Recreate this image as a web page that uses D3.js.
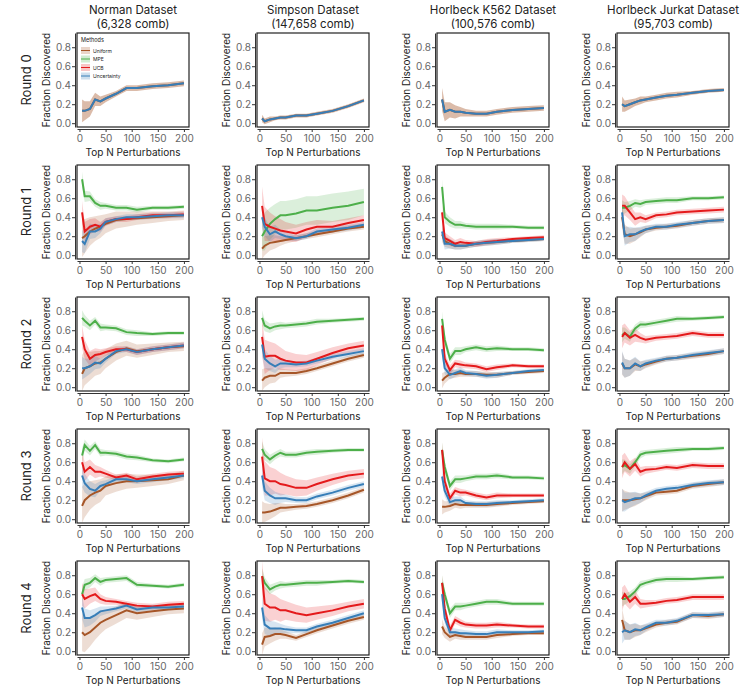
<!DOCTYPE html>
<html>
<head>
<meta charset="utf-8">
<script src="https://cdn.jsdelivr.net/npm/d3@7"></script>
<style>
  body { margin: 0; background: #fff; }
  text { font-family: Inter, "Noto Sans", sans-serif; }
</style>
</head>
<body>
<div id="chart"></div>
<script>
// Data
var topN = [5, 10, 20, 30, 40, 50, 70, 90, 110, 140, 170, 200];
var datasets = ['Norman Dataset\n(6,328 comb)', 'Simpson Dataset\n(147,658 comb)',
  'Horlbeck K562 Dataset\n(100,576 comb)', 'Horlbeck Jurkat Dataset\n(95,703 comb)'];
var rounds = ['Round 0', 'Round 1', 'Round 2', 'Round 3', 'Round 4'];
var methods = ['Uniform', 'MPE', 'UCB', 'Uncertainty'];
var methodColors = ['#a65628', '#4daf4a', '#e41a1c', '#377eb8'];
var yTicks = [0, 0.2, 0.4, 0.6, 0.8];
var xTicks = [0, 50, 100, 150, 200];

// band half-width profiles
var hwWide = [0.12, 0.1, 0.08, 0.07, 0.05, 0.04, 0.03, 0.03, 0.03, 0.03, 0.03, 0.03];
var hwMid = [0.08, 0.06, 0.05, 0.04, 0.04, 0.03, 0.03, 0.03, 0.03, 0.02, 0.02, 0.02];
var hwNarrow = [0.04, 0.03, 0.03, 0.02, 0.02, 0.02, 0.02, 0.02, 0.02, 0.02, 0.02, 0.02];
var hwBroad = [0.2, 0.18, 0.15, 0.13, 0.12, 0.1, 0.09, 0.08, 0.07, 0.06, 0.05, 0.05];
var hwHuge = [0.15, 0.2, 0.17, 0.16, 0.15, 0.15, 0.15, 0.15, 0.15, 0.15, 0.15, 0.14];

// values[round][dataset] = [Uniform, MPE, UCB, Uncertainty]
var r0Norman = [0.13, 0.13, 0.15, 0.25, 0.23, 0.26, 0.31, 0.37, 0.37, 0.39, 0.40, 0.42];
var r0Simpson = [0.05, 0.02, 0.04, 0.05, 0.06, 0.06, 0.08, 0.08, 0.10, 0.13, 0.18, 0.24];
var r0K562 = [0.25, 0.12, 0.14, 0.12, 0.12, 0.11, 0.10, 0.10, 0.12, 0.14, 0.15, 0.16];
var r0Jurkat = [0.20, 0.18, 0.20, 0.22, 0.24, 0.25, 0.27, 0.29, 0.30, 0.32, 0.34, 0.35];

var values = [
  [
    [r0Norman, r0Norman, r0Norman, r0Norman],
    [r0Simpson, r0Simpson, r0Simpson, r0Simpson],
    [r0K562, r0K562, r0K562, r0K562],
    [r0Jurkat, r0Jurkat, r0Jurkat, r0Jurkat]
  ],
  [
    [[0.18, 0.20, 0.25, 0.28, 0.30, 0.33, 0.37, 0.38, 0.39, 0.40, 0.41, 0.42],
     [0.80, 0.62, 0.62, 0.55, 0.52, 0.52, 0.50, 0.50, 0.48, 0.50, 0.50, 0.51],
     [0.45, 0.25, 0.30, 0.32, 0.30, 0.35, 0.38, 0.38, 0.40, 0.42, 0.42, 0.43],
     [0.15, 0.12, 0.25, 0.25, 0.28, 0.35, 0.38, 0.40, 0.40, 0.41, 0.42, 0.42]],
    [[0.07, 0.10, 0.13, 0.14, 0.15, 0.16, 0.18, 0.20, 0.22, 0.25, 0.28, 0.30],
     [0.20, 0.25, 0.33, 0.38, 0.42, 0.42, 0.44, 0.47, 0.47, 0.50, 0.52, 0.56],
     [0.52, 0.33, 0.30, 0.28, 0.26, 0.25, 0.23, 0.27, 0.30, 0.30, 0.34, 0.37],
     [0.40, 0.30, 0.22, 0.25, 0.22, 0.20, 0.18, 0.20, 0.25, 0.27, 0.29, 0.32]],
    [[0.22, 0.15, 0.12, 0.10, 0.10, 0.10, 0.12, 0.13, 0.14, 0.15, 0.16, 0.17],
     [0.72, 0.40, 0.35, 0.32, 0.32, 0.31, 0.30, 0.30, 0.30, 0.30, 0.29, 0.29],
     [0.45, 0.18, 0.15, 0.12, 0.14, 0.13, 0.12, 0.14, 0.15, 0.17, 0.18, 0.19],
     [0.25, 0.12, 0.12, 0.10, 0.10, 0.10, 0.12, 0.13, 0.14, 0.15, 0.16, 0.17]],
    [[0.40, 0.22, 0.20, 0.22, 0.24, 0.27, 0.29, 0.30, 0.31, 0.34, 0.36, 0.37],
     [0.50, 0.50, 0.52, 0.55, 0.54, 0.56, 0.57, 0.58, 0.58, 0.60, 0.60, 0.61],
     [0.52, 0.52, 0.45, 0.38, 0.40, 0.38, 0.42, 0.43, 0.45, 0.46, 0.47, 0.48],
     [0.45, 0.20, 0.22, 0.22, 0.25, 0.27, 0.30, 0.30, 0.32, 0.34, 0.36, 0.37]]
  ],
  [
    [[0.14, 0.20, 0.22, 0.25, 0.26, 0.30, 0.37, 0.41, 0.38, 0.40, 0.42, 0.43],
     [0.73, 0.70, 0.65, 0.70, 0.63, 0.63, 0.62, 0.58, 0.57, 0.56, 0.57, 0.57],
     [0.53, 0.40, 0.30, 0.34, 0.35, 0.37, 0.40, 0.40, 0.37, 0.40, 0.42, 0.44],
     [0.20, 0.20, 0.22, 0.26, 0.25, 0.30, 0.38, 0.40, 0.37, 0.40, 0.42, 0.44]],
    [[0.07, 0.10, 0.12, 0.12, 0.15, 0.15, 0.15, 0.17, 0.20, 0.25, 0.30, 0.34],
     [0.73, 0.65, 0.62, 0.64, 0.65, 0.65, 0.66, 0.67, 0.69, 0.70, 0.71, 0.72],
     [0.53, 0.32, 0.33, 0.33, 0.30, 0.28, 0.26, 0.26, 0.30, 0.36, 0.41, 0.44],
     [0.45, 0.30, 0.25, 0.22, 0.25, 0.25, 0.24, 0.25, 0.28, 0.32, 0.35, 0.38]],
    [[0.07, 0.10, 0.14, 0.14, 0.15, 0.14, 0.14, 0.13, 0.13, 0.15, 0.16, 0.17],
     [0.72, 0.50, 0.30, 0.38, 0.38, 0.40, 0.42, 0.40, 0.41, 0.40, 0.40, 0.39],
     [0.65, 0.30, 0.18, 0.25, 0.24, 0.23, 0.22, 0.19, 0.21, 0.23, 0.22, 0.22],
     [0.40, 0.20, 0.13, 0.15, 0.17, 0.15, 0.14, 0.12, 0.13, 0.15, 0.17, 0.18]],
    [[0.25, 0.20, 0.20, 0.24, 0.22, 0.24, 0.27, 0.30, 0.31, 0.33, 0.35, 0.38],
     [0.55, 0.57, 0.53, 0.62, 0.66, 0.66, 0.68, 0.70, 0.72, 0.72, 0.73, 0.74],
     [0.53, 0.57, 0.52, 0.55, 0.52, 0.50, 0.52, 0.53, 0.54, 0.57, 0.55, 0.55],
     [0.26, 0.20, 0.20, 0.25, 0.22, 0.25, 0.28, 0.30, 0.31, 0.34, 0.36, 0.38]]
  ],
  [
    [[0.14, 0.20, 0.25, 0.28, 0.30, 0.35, 0.38, 0.40, 0.40, 0.41, 0.42, 0.46],
     [0.67, 0.78, 0.72, 0.78, 0.70, 0.70, 0.69, 0.66, 0.65, 0.62, 0.61, 0.63],
     [0.60, 0.50, 0.55, 0.50, 0.50, 0.48, 0.44, 0.46, 0.42, 0.45, 0.47, 0.48],
     [0.46, 0.38, 0.32, 0.30, 0.35, 0.37, 0.42, 0.42, 0.40, 0.42, 0.44, 0.46]],
    [[0.07, 0.07, 0.08, 0.10, 0.12, 0.12, 0.13, 0.14, 0.16, 0.20, 0.25, 0.31],
     [0.74, 0.68, 0.63, 0.67, 0.70, 0.68, 0.68, 0.70, 0.71, 0.72, 0.73, 0.73],
     [0.66, 0.43, 0.40, 0.40, 0.37, 0.36, 0.33, 0.33, 0.37, 0.42, 0.46, 0.48],
     [0.46, 0.30, 0.25, 0.22, 0.22, 0.22, 0.20, 0.20, 0.24, 0.28, 0.33, 0.37]],
    [[0.13, 0.13, 0.14, 0.16, 0.15, 0.15, 0.15, 0.15, 0.16, 0.17, 0.18, 0.19],
     [0.73, 0.55, 0.35, 0.42, 0.42, 0.43, 0.45, 0.45, 0.46, 0.44, 0.44, 0.43],
     [0.73, 0.40, 0.22, 0.30, 0.28, 0.28, 0.25, 0.23, 0.25, 0.25, 0.25, 0.25],
     [0.45, 0.30, 0.18, 0.20, 0.20, 0.17, 0.16, 0.16, 0.17, 0.18, 0.19, 0.20]],
    [[0.20, 0.20, 0.20, 0.21, 0.22, 0.24, 0.28, 0.29, 0.30, 0.35, 0.37, 0.39],
     [0.55, 0.57, 0.53, 0.60, 0.68, 0.70, 0.71, 0.72, 0.73, 0.74, 0.74, 0.75],
     [0.55, 0.60, 0.53, 0.58, 0.50, 0.52, 0.53, 0.55, 0.54, 0.57, 0.56, 0.56],
     [0.20, 0.18, 0.20, 0.22, 0.22, 0.25, 0.30, 0.32, 0.33, 0.36, 0.38, 0.39]]
  ],
  [
    [[0.20, 0.17, 0.20, 0.25, 0.30, 0.33, 0.38, 0.43, 0.40, 0.42, 0.44, 0.45],
     [0.60, 0.70, 0.72, 0.77, 0.73, 0.75, 0.76, 0.77, 0.70, 0.69, 0.68, 0.70],
     [0.60, 0.55, 0.58, 0.60, 0.55, 0.53, 0.52, 0.50, 0.48, 0.47, 0.49, 0.50],
     [0.46, 0.35, 0.35, 0.38, 0.42, 0.43, 0.45, 0.48, 0.44, 0.46, 0.46, 0.47]],
    [[0.07, 0.15, 0.16, 0.18, 0.18, 0.17, 0.14, 0.18, 0.22, 0.27, 0.32, 0.36],
     [0.79, 0.72, 0.65, 0.68, 0.70, 0.70, 0.71, 0.72, 0.72, 0.73, 0.74, 0.73],
     [0.79, 0.50, 0.46, 0.46, 0.43, 0.43, 0.40, 0.38, 0.40, 0.43, 0.47, 0.50],
     [0.46, 0.28, 0.24, 0.24, 0.24, 0.23, 0.22, 0.22, 0.26, 0.30, 0.35, 0.40]],
    [[0.26, 0.20, 0.15, 0.17, 0.16, 0.15, 0.15, 0.15, 0.17, 0.18, 0.19, 0.19],
     [0.72, 0.60, 0.40, 0.47, 0.47, 0.48, 0.50, 0.52, 0.52, 0.50, 0.50, 0.50],
     [0.72, 0.45, 0.22, 0.33, 0.30, 0.28, 0.27, 0.27, 0.28, 0.27, 0.26, 0.26],
     [0.60, 0.35, 0.20, 0.20, 0.19, 0.19, 0.18, 0.18, 0.20, 0.20, 0.20, 0.21]],
    [[0.33, 0.22, 0.20, 0.22, 0.22, 0.24, 0.28, 0.30, 0.31, 0.38, 0.37, 0.39],
     [0.55, 0.55, 0.58, 0.63, 0.70, 0.72, 0.75, 0.76, 0.76, 0.76, 0.77, 0.78],
     [0.55, 0.60, 0.52, 0.57, 0.50, 0.50, 0.51, 0.53, 0.54, 0.57, 0.57, 0.57],
     [0.20, 0.22, 0.20, 0.23, 0.22, 0.25, 0.30, 0.30, 0.32, 0.38, 0.38, 0.39]]
  ]
];

// band profile per dataset column: [Uniform, MPE, UCB, Uncertainty]
var bandProfiles = [
  [hwBroad, hwMid, hwWide, hwWide],
  [hwWide, hwMid, hwBroad, hwWide],
  [hwMid, hwMid, hwMid, hwMid],
  [hwWide, hwMid, hwWide, hwWide]
];
var bandProfilesR0 = [hwWide, hwNarrow, hwWide, hwMid];
var simpsonR1Mpe = hwHuge;

var W = 743, H = 686;
var colX = [77, 257, 437, 617], rowY = [33, 165, 297, 429, 561];
var pw = 112, ph = 94;

var svg = d3.select('#chart').append('svg').attr('width', W).attr('height', H);

var x = d3.scaleLinear().domain([-4.75, 209.75]).range([0, pw]);
var y = d3.scaleLinear().domain([-0.04, 0.95]).range([ph, 0]);

var line = d3.line().x(function (d) { return x(d.n); }).y(function (d) { return y(d.v); });
var area = d3.area().x(function (d) { return x(d.n); })
  .y0(function (d) { return y(Math.max(-0.04, d.v - d.h)); })
  .y1(function (d) { return y(Math.min(0.95, d.v + d.h)); });

// column titles
datasets.forEach(function (t, c) {
  var lines = t.split('\n');
  var tt = svg.append('text').attr('text-anchor', 'middle')
    .attr('font-size', 11.5).attr('fill', '#222');
  lines.forEach(function (l, i) {
    tt.append('tspan').attr('x', colX[c] + pw / 2).attr('y', 14 + i * 13.5).text(l);
  });
});

rounds.forEach(function (r, ri) {
  svg.append('text')
    .attr('transform', 'translate(31,' + (rowY[ri] + ph / 2) + ') rotate(-90)')
    .attr('text-anchor', 'middle').attr('font-size', 13).attr('fill', '#222').text(r);

  datasets.forEach(function (ds, c) {
    var g = svg.append('g').attr('transform', 'translate(' + colX[c] + ',' + rowY[ri] + ')');
    g.append('defs').append('clipPath').attr('id', 'clip' + ri + c)
      .append('rect').attr('width', pw).attr('height', ph);

    var plot = g.append('g').attr('clip-path', 'url(#clip' + ri + c + ')');
    var order = ri === 0 ? [0, 3] : [0, 1, 2, 3];
    order.forEach(function (m) {
      var prof = ri === 0 ? bandProfilesR0[c] : bandProfiles[c][m];
      if (ri === 1 && c === 1 && m === 1) prof = simpsonR1Mpe;
      var pts = topN.map(function (n, i) { return { n: n, v: values[ri][c][m][i], h: prof[i] }; });
      if (ri === 0 && m === 3) return;
      plot.append('path').datum(pts).attr('d', area)
        .attr('fill', methodColors[m]).attr('fill-opacity', ri === 0 ? 0.4 : 0.2);
    });
    order.forEach(function (m) {
      var pts = topN.map(function (n, i) { return { n: n, v: values[ri][c][m][i] }; });
      plot.append('path').datum(pts).attr('d', line)
        .attr('fill', 'none').attr('stroke', methodColors[m]).attr('stroke-width', 2);
    });

    g.append('rect').attr('width', pw).attr('height', ph)
      .attr('fill', 'none').attr('stroke', '#222').attr('stroke-width', 1.2);

    var xa = g.append('g').attr('transform', 'translate(0,' + (ph + 2) + ')')
      .call(d3.axisBottom(x).tickValues(xTicks).tickSize(3).tickSizeOuter(0));
    var ya = g.append('g').attr('transform', 'translate(-2,0)')
      .call(d3.axisLeft(y).tickValues(yTicks).tickFormat(d3.format('.1f')).tickSize(3).tickSizeOuter(0));
    [xa, ya].forEach(function (a) {
      a.select('.domain').attr('stroke', '#333');
      a.selectAll('.tick line').attr('stroke', '#333');
      a.selectAll('.tick text').attr('fill', '#666').attr('font-size', 10)
        .style('font-family', 'Inter, "Noto Sans", sans-serif');
    });
    ya.selectAll('.tick text').attr('x', -4);

    g.append('text').attr('x', pw / 2).attr('y', ph + 29).attr('text-anchor', 'middle')
      .attr('font-size', 10).attr('fill', '#222').text('Top N Perturbations');
    g.append('text').attr('transform', 'translate(-27,' + (ph / 2) + ') rotate(-90)')
      .attr('text-anchor', 'middle').attr('font-size', 10).attr('fill', '#222')
      .text('Fraction Discovered');

    if (ri === 0 && c === 0) {
      var lg = g.append('g').attr('transform', 'translate(4,5)');
      lg.append('text').attr('x', 0).attr('y', 4).attr('font-size', 5.5).attr('fill', '#222').text('Methods');
      methods.forEach(function (m, i) {
        var ky = 9 + i * 8.5;
        lg.append('rect').attr('x', 0).attr('y', ky).attr('width', 9).attr('height', 7)
          .attr('fill', methodColors[i]).attr('fill-opacity', 0.25);
        lg.append('line').attr('x1', 0).attr('x2', 9).attr('y1', ky + 3.5).attr('y2', ky + 3.5)
          .attr('stroke', methodColors[i]).attr('stroke-width', 1);
        lg.append('text').attr('x', 12).attr('y', ky + 5.5).attr('font-size', 5)
          .attr('fill', '#222').text(m);
      });
    }
  });
});
</script>
</body>
</html>
